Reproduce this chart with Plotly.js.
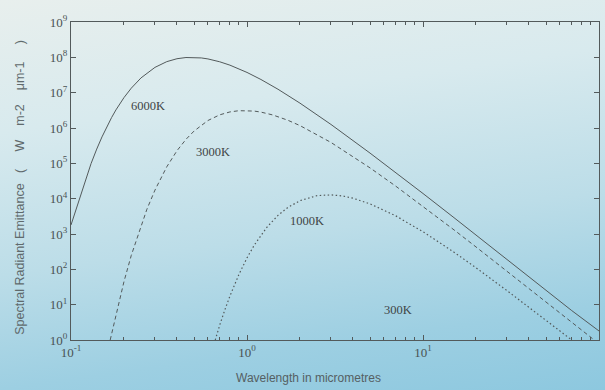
<!DOCTYPE html>
<html>
<head>
<meta charset="utf-8">
<script src="https://cdn.plot.ly/plotly-3.0.1.min.js"></script>
<style>
  html, body { margin: 0; padding: 0; }
  body {
    width: 605px; height: 390px; overflow: hidden;
    background: linear-gradient(172deg, #e8efed 0%, #d8eaee 28%, #bcdde8 58%, #9dcfe2 82%, #8dc8df 100%);
  }
  #chart { width: 605px; height: 390px; }
</style>
</head>
<body>
<div id="chart"></div>
<script>
// Wavelength (micrometres) and spectral radiant emittance (W m-2 um-1)
const wl6000 = [0.1, 0.11, 0.12, 0.13, 0.14, 0.15, 0.17, 0.18, 0.2, 0.22, 0.25, 0.3, 0.35, 0.4, 0.45, 0.5, 0.55, 0.6, 0.7, 0.8, 1, 1.2, 1.5, 2, 3, 5, 7, 10, 15, 20, 30, 50, 70, 100];
const em6000 = [1800, 7920, 31600, 9.83e4, 2.53e5, 5.6e5, 1.97e6, 3.25e6, 7.25e6, 1.34e7, 2.62e7, 5.2e7, 7.55e7, 9.13e7, 9.88e7, 9.98e7, 9.62e7, 9.01e7, 7.48e7, 6.0e7, 3.74e7, 2.36e7, 1.25e7, 5.05e6, 1.26e6, 1.95e5, 5.5e4, 1.4e4, 2900, 940, 190, 25.5, 6.8, 1.8];

const wl3000 = [0.167, 0.18, 0.19, 0.2, 0.22, 0.25, 0.27, 0.3, 0.35, 0.4, 0.45, 0.5, 0.6, 0.7, 0.8, 0.9, 1.0, 1.1, 1.2, 1.4, 1.7, 2, 3, 5, 7, 10, 15, 20, 30, 50, 70, 94];
const em3000 = [1.0, 5.3, 16.5, 45, 248, 1790, 5030, 1.75e4, 7.97e4, 2.27e5, 4.77e5, 8.18e5, 1.63e6, 2.36e6, 2.85e6, 3.09e6, 3.12e6, 3.01e6, 2.82e6, 2.34e6, 1.67e6, 1.17e6, 3.9e5, 7.44e4, 2.26e4, 6080, 1310, 431, 88.8, 11.9, 3.14, 1.0];

const wl1000 = [0.66, 0.68, 0.7, 0.75, 0.8, 0.9, 1.0, 1.1, 1.2, 1.3, 1.5, 1.7, 2, 2.5, 3, 3.5, 4, 5, 7, 10, 15, 20, 30, 50, 70];
const em1000 = [1.0, 1.66, 2.65, 7.35, 17.6, 72, 211, 485, 932, 1570, 3365, 5560, 8790, 1.22e4, 1.28e4, 1.19e4, 1.03e4, 7140, 3270, 1160, 306, 111, 25, 3.6, 1.0];

const curveLabels = ['6000K', '3000K', '1000K', '300K'];
const labelX = [0.274, 0.641, 2.19, 7.2];
const labelY = [4.2e6, 2.05e5, 2.4e3, 7.1];

const xTickVals = [0.1, 1, 10, 100];
const xTickText = ['10<sup>-1</sup>', '10<sup>0</sup>', '10<sup>1</sup>', '10<sup>2</sup>'];
const yTickVals = [1, 10, 100, 1e3, 1e4, 1e5, 1e6, 1e7, 1e8, 1e9];
const yTickText = ['10<sup>0</sup>', '10<sup>1</sup>', '10<sup>2</sup>', '10<sup>3</sup>', '10<sup>4</sup>', '10<sup>5</sup>', '10<sup>6</sup>', '10<sup>7</sup>', '10<sup>8</sup>', '10<sup>9</sup>'];

const lineColor = '#535a5b';
const serif = 'Liberation Serif, Times New Roman, serif';
const sans = 'Liberation Sans, Arial, sans-serif';

const traces = [
  {x: wl6000, y: em6000, mode: 'lines', line: {color: lineColor, width: 1}, hoverinfo: 'skip'},
  {x: wl3000, y: em3000, mode: 'lines', line: {color: lineColor, width: 1, dash: '4px,3px'}, hoverinfo: 'skip'},
  {x: wl1000, y: em1000, mode: 'lines', line: {color: lineColor, width: 1.2, dash: '1.5px,2.5px'}, hoverinfo: 'skip'}
];

const annotations = curveLabels.map((t, i) => ({
  x: Math.log10(labelX[i]), y: Math.log10(labelY[i]), xref: 'x', yref: 'y',
  text: t, showarrow: false, font: {family: serif, size: 12.5, color: '#3f4546'}
}));
const S = n => '\u00A0'.repeat(n);
annotations.push({
  xref: 'paper', yref: 'paper', x: 0.449, y: -0.118, yanchor: 'middle', xanchor: 'center',
  text: 'Wavelength in micrometres', showarrow: false,
  font: {family: sans, size: 12, color: '#556063'}
});
annotations.push({
  xref: 'paper', yref: 'paper', x: -0.097, y: 0.481, xanchor: 'center', yanchor: 'middle',
  text: 'Spectral Radiant Emittance' + S(3) + '(' + S(5) + 'W' + S(4) + 'm-2' + S(4) + 'μm-1' + S(5) + ')',
  showarrow: false, textangle: -90,
  font: {family: sans, size: 12.5, color: '#606a6c'}
});

const axisCommon = {
  showline: true, linecolor: lineColor, linewidth: 1, mirror: 'ticks',
  ticks: 'inside', ticklen: 5, tickcolor: lineColor, tickwidth: 1,
  showgrid: false, zeroline: false,
  tickfont: {family: serif, size: 13, color: '#4a5253'}
};

const layout = {
  width: 605, height: 390,
  margin: {l: 71, r: 6, t: 22, b: 50},
  paper_bgcolor: 'rgba(0,0,0,0)', plot_bgcolor: 'rgba(0,0,0,0)',
  showlegend: false,
  xaxis: Object.assign({}, axisCommon, {
    type: 'log', range: [-1, 2], tickmode: 'array', tickvals: xTickVals, ticktext: xTickText,
    minor: {ticks: 'inside', ticklen: 3, tickcolor: lineColor, tickmode: 'linear', dtick: 'D1', showgrid: false}
  }),
  yaxis: Object.assign({}, axisCommon, {
    type: 'log', range: [0, 9], tickmode: 'array', tickvals: yTickVals, ticktext: yTickText
  }),
  annotations: annotations
};

Plotly.newPlot('chart', traces, layout, {displayModeBar: false, staticPlot: true});
</script>
</body>
</html>
